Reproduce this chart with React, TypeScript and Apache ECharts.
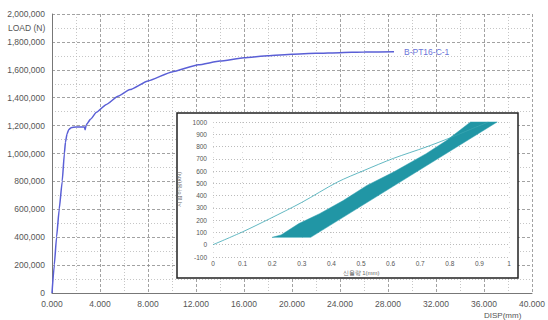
import React, { useEffect, useRef } from "react";
import * as echarts from "echarts";

// Main load–displacement curve (DISP mm, LOAD N)
const dispMm = [0, 0.19, 0.38, 0.6, 0.85, 1.03, 1.12, 1.25, 1.4, 1.6, 2.0, 2.4, 2.7, 2.76, 2.85, 3.2, 3.7, 4.5, 5.5, 6.5, 8.0, 10, 12.2, 14, 16, 18, 20, 22, 24, 26, 28.5];
const loadN = [0, 200000, 400000, 600000, 800000, 1000000, 1080000, 1140000, 1172000, 1185000, 1190000, 1190000, 1190000, 1170000, 1205000, 1245000, 1295000, 1350000, 1410000, 1458000, 1520000, 1585000, 1636000, 1663000, 1686000, 1701000, 1711000, 1718000, 1723000, 1727000, 1729000];
const seriesName = "B-PT16-C-1";

// Inset: initial loading line
const insetLineX = [0, 0.1, 0.19, 0.3, 0.42, 0.51, 0.61, 0.72, 0.8, 0.87, 0.93];
const insetLineY = [0, 105, 210, 345, 510, 605, 704, 796, 870, 940, 1000];

// Inset: cyclic loading band outline
const bandX = [0.2, 0.33, 0.96, 0.87, 0.79, 0.72, 0.61, 0.52, 0.44, 0.36, 0.29, 0.23, 0.2];
const bandY = [60, 60, 1000, 1000, 851, 742, 592, 483, 360, 253, 172, 80, 60];

const FONT = "'Liberation Sans', Arial, sans-serif";

export default function App() {
  const ref = useRef<HTMLDivElement>(null);
  useEffect(() => {
    const chart = echarts.init(ref.current!, null, { renderer: "svg" });
    const mainLine = dispMm.map((x, i) => [x, loadN[i]]);
    const insetLine = insetLineX.map((x, i) => [x, insetLineY[i]]);
    chart.setOption({
      animation: false,
      backgroundColor: "#fff",
      textStyle: { fontFamily: FONT },
      grid: [
        { left: 52, right: 11, top: 14, bottom: 27 },
        { left: 213, width: 296, top: 122, height: 135, z: 6 },
      ],
      xAxis: [
        {
          gridIndex: 0,
          type: "value",
          min: 0,
          max: 40,
          interval: 4,
          axisLabel: { formatter: (v: number) => v.toFixed(3), fontSize: 8.5, color: "#555", margin: 6, fontFamily: FONT },
          axisLine: { lineStyle: { color: "#777", width: 1 } },
          axisTick: { show: false },
          splitLine: { show: true, lineStyle: { type: [3, 2], color: "#8a8a8a", width: 0.8 } },
          minorTick: { show: false, splitNumber: 2 },
          minorSplitLine: { show: true, lineStyle: { type: [1, 2], color: "#b8b8b8", width: 0.8 } },
        },
        {
          gridIndex: 1,
          type: "value",
          min: 0,
          max: 1,
          interval: 0.1,
          z: 6,
          name: "신율량 1(mm)",
          nameLocation: "middle",
          nameGap: 13,
          nameTextStyle: { fontSize: 6, color: "#666", fontFamily: FONT },
          axisLabel: { formatter: (v: number) => (v === 0 || v === 1 ? String(v) : v.toFixed(1)), fontSize: 6.5, color: "#555", margin: 3, fontFamily: FONT },
          axisLine: { show: false },
          axisTick: { show: false },
          splitLine: { show: true, lineStyle: { type: [1, 4], color: "#cfcfcf", width: 0.8 } },
        },
      ],
      yAxis: [
        {
          gridIndex: 0,
          type: "value",
          min: 0,
          max: 2000000,
          interval: 200000,
          axisLabel: { formatter: (v: number) => v.toLocaleString("en-US"), fontSize: 8.5, color: "#555", margin: 7, fontFamily: FONT },
          axisLine: { show: true, lineStyle: { color: "#777", width: 1 } },
          axisTick: { show: false },
          splitLine: { show: true, lineStyle: { type: [3, 2], color: "#8a8a8a", width: 0.8 } },
          minorTick: { show: false, splitNumber: 2 },
          minorSplitLine: { show: true, lineStyle: { type: [1, 2], color: "#b8b8b8", width: 0.8 } },
        },
        {
          gridIndex: 1,
          type: "value",
          min: -100,
          max: 1000,
          interval: 100,
          z: 6,
          name: "시험하중(kN)",
          nameLocation: "middle",
          nameGap: 24,
          nameRotate: 90,
          nameTextStyle: { fontSize: 6, color: "#666", fontFamily: FONT },
          axisLabel: { formatter: (v: number) => String(v), fontSize: 6.5, color: "#555", margin: 6, fontFamily: FONT },
          axisLine: { show: false },
          axisTick: { show: false },
          splitLine: { show: true, lineStyle: { type: [1, 2], color: "#aaa", width: 0.8 } },
        },
      ],
      graphic: [
        {
          type: "rect",
          z: 5,
          shape: { x: 177, y: 113, width: 341, height: 165 },
          style: { fill: "#fff", stroke: "#222", lineWidth: 1.5 },
        },
        {
          type: "text",
          left: 8,
          top: 23,
          style: { text: "LOAD (N)", fontSize: 8.5, fill: "#555", fontFamily: FONT },
        },
        {
          type: "text",
          left: 484,
          top: 311,
          style: { text: "DISP(mm)", fontSize: 8, fill: "#555", fontFamily: FONT },
        },
      ],
      series: [
        {
          name: seriesName,
          type: "line",
          xAxisIndex: 0,
          yAxisIndex: 0,
          data: mainLine,
          showSymbol: false,
          smooth: 0.15,
          smoothMonotone: "x",
          lineStyle: { color: "#5a5fd6", width: 1.5 },
          z: 2,
          endLabel: {
            show: true,
            formatter: () => seriesName,
            color: "#6a74d8",
            fontSize: 8.5,
            distance: 10,
            fontFamily: FONT,
          },
        },
        {
          type: "custom",
          xAxisIndex: 1,
          yAxisIndex: 1,
          z: 7,
          data: [[bandX[0], bandY[0]]],
          renderItem: (_params: any, api: any) => {
            const pts = bandX.map((x, i) => api.coord([x, bandY[i]]));
            return {
              type: "polygon",
              shape: { points: pts },
              style: { fill: "#2196a5", stroke: "#2a9fae", lineWidth: 0.5 },
            };
          },
        },
        {
          type: "line",
          xAxisIndex: 1,
          yAxisIndex: 1,
          z: 8,
          data: insetLine,
          showSymbol: false,
          smooth: 0.3,
          lineStyle: { color: "#3aa6b3", width: 0.8 },
        },
      ],
    });
    return () => chart.dispose();
  }, []);
  return (
    <div
      ref={ref}
      style={{ position: "fixed", left: 0, top: 0, width: 548, height: 320, background: "#fff" }}
    />
  );
}
